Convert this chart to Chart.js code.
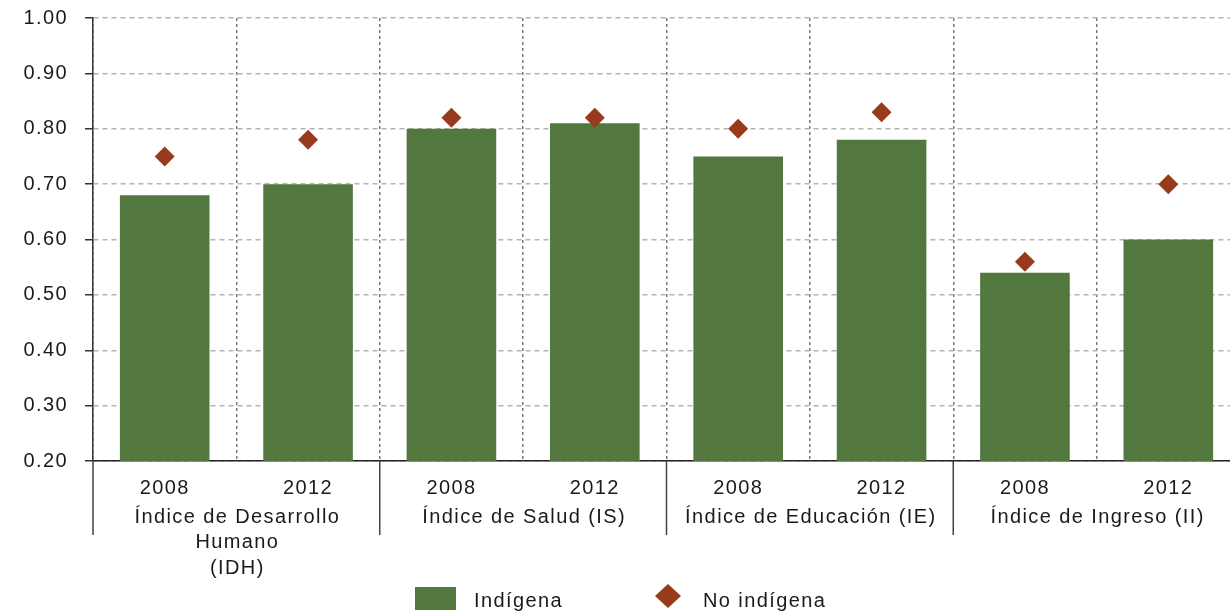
<!DOCTYPE html>
<html>
<head>
<meta charset="utf-8">
<script src="https://cdn.jsdelivr.net/npm/chart.js@4"></script>
<style>
  html, body { margin: 0; padding: 0; background: #fff; overflow: hidden; }
  #wrap { width: 1230px; height: 613px; overflow: hidden; }
  /* chart.js keeps room above the top label, pull the canvas up so 1.00 sits at y=17 */
  #chart { display: block; margin-top: -11px; }
</style>
</head>
<body>
<div id="wrap"><canvas id="chart" width="1250" height="624"></canvas></div>
<script>
const years = ['2008', '2012', '2008', '2012', '2008', '2012', '2008', '2012'];
const groupLabels = [
    ['Índice de Desarrollo', 'Humano', '(IDH)'],
    ['Índice de Salud (IS)'],
    ['Índice de Educación (IE)'],
    ['Índice de Ingreso (II)']
];
const indigena = [0.68, 0.70, 0.80, 0.81, 0.75, 0.78, 0.54, 0.60];
const noIndigena = [0.75, 0.78, 0.82, 0.82, 0.80, 0.83, 0.56, 0.70];
const yTicks = [0.2, 0.3, 0.4, 0.5, 0.6, 0.7, 0.8, 0.9, 1.0];

const GREEN = '#52783f';
const RED = '#983a1c';
const TEXT = '#1a1a1a';
const FONT = '"Liberation Sans", Arial, sans-serif';
const SPACING = '1.4px';

// the text in the reference is set wide, so add letter spacing to the context
const spacingPlugin = {
    id: 'spacing',
    beforeUpdate(chart) { chart.ctx.letterSpacing = SPACING; },
    beforeLayout(chart) { chart.ctx.letterSpacing = SPACING; },
    beforeDraw(chart) { chart.ctx.letterSpacing = SPACING; }
};

// group separators under the axis, group names and the legend
const extrasPlugin = {
    id: 'extras',
    afterDraw(chart) {
        const ctx = chart.ctx;
        const x = chart.scales.x;
        const area = chart.chartArea;
        const half = (x.getPixelForValue(1) - x.getPixelForValue(0)) / 2;
        const base = area.bottom; // x axis line

        ctx.save();
        ctx.letterSpacing = SPACING;
        ctx.strokeStyle = '#444';
        ctx.lineWidth = 1.5;
        for (let g = 0; g < groupLabels.length; g++) {
            const left = x.getPixelForValue(g * 2) - half;
            ctx.beginPath();
            ctx.moveTo(left, base);
            ctx.lineTo(left, base + 74);
            ctx.stroke();

            const cx = x.getPixelForValue(g * 2) + half;
            ctx.fillStyle = TEXT;
            ctx.font = '20px ' + FONT;
            ctx.textAlign = 'center';
            ctx.textBaseline = 'middle';
            groupLabels[g].forEach((line, i) => {
                ctx.fillText(line, cx + 1, base + 56 + i * 25.5);
            });
        }

        // legend, placed relative to the axis line
        ctx.fillStyle = GREEN;
        ctx.fillRect(415, base + 126, 41, 23);
        ctx.fillStyle = RED;
        ctx.beginPath();
        ctx.moveTo(668, base + 123);
        ctx.lineTo(681, base + 135);
        ctx.lineTo(668, base + 147);
        ctx.lineTo(655, base + 135);
        ctx.closePath();
        ctx.fill();
        ctx.fillStyle = TEXT;
        ctx.font = '20px ' + FONT;
        ctx.textAlign = 'left';
        ctx.textBaseline = 'middle';
        ctx.fillText('Indígena', 474, base + 140);
        ctx.fillText('No indígena', 703, base + 140);
        ctx.restore();
    }
};

new Chart(document.getElementById('chart'), {
    data: {
        labels: years,
        datasets: [
            {
                type: 'line',
                label: 'No indígena',
                data: noIndigena,
                showLine: false,
                pointStyle: 'rectRot',
                pointRadius: 10,
                pointHoverRadius: 10,
                pointBackgroundColor: RED,
                pointBorderColor: RED,
                pointBorderWidth: 0,
                order: 0
            },
            {
                type: 'bar',
                label: 'Indígena',
                data: indigena,
                backgroundColor: GREEN,
                categoryPercentage: 1,
                barPercentage: 0.625,
                order: 1
            }
        ]
    },
    options: {
        responsive: false,
        animation: false,
        layout: { padding: { top: 7, right: 5, left: 0, bottom: 0 } },
        plugins: {
            legend: { display: false },
            tooltip: { enabled: false }
        },
        scales: {
            x: {
                offset: true,
                grid: {
                    offset: true,
                    color: '#7a7a7a',
                    lineWidth: 1.5,
                    drawTicks: false
                },
                border: { display: true, color: '#222', width: 1.5, dash: [3, 3] },
                ticks: {
                    color: TEXT,
                    font: { family: FONT, size: 20 },
                    padding: 15,
                    maxRotation: 0,
                    autoSkip: false
                },
                afterFit(scale) { scale.height = 152; }
            },
            y: {
                min: 0.2,
                max: 1.0,
                afterBuildTicks(scale) { scale.ticks = yTicks.map(v => ({ value: v })); },
                grid: {
                    color: '#b4b4b4',
                    lineWidth: 1.5,
                    tickLength: 8,
                    tickColor: '#333',
                    tickWidth: 1.5,
                    tickBorderDash: []
                },
                border: { display: true, color: '#333', width: 1.5, dash: [5, 4] },
                ticks: {
                    color: TEXT,
                    font: { family: FONT, size: 20 },
                    padding: 17,
                    callback: v => v.toFixed(2)
                },
                afterFit(scale) { scale.width = 93; }
            }
        }
    },
    plugins: [spacingPlugin, extrasPlugin]
});
</script>
</body>
</html>
